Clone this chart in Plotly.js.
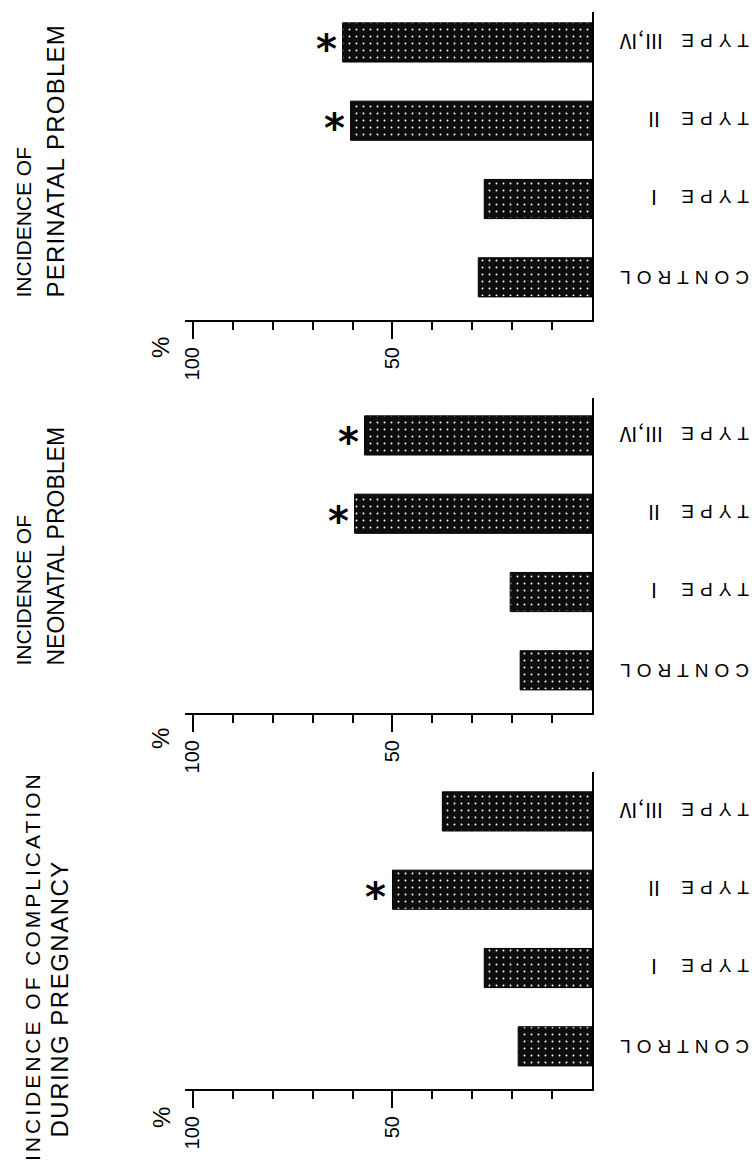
<!DOCTYPE html>
<html><head><meta charset="utf-8">
<script src="https://cdn.plot.ly/plotly-3.0.1.min.js"></script>
<style>html,body{margin:0;padding:0;background:#fff}</style>
</head><body><div id="chart" style="width:754px;height:1167px"></div>
<script>
// ---- data ----
const categories = ['CONTROL', 'TYPE Ⅰ', 'TYPE Ⅱ', 'TYPE Ⅲ,Ⅳ'];
const perinatalValues = [28.5, 27, 60.5, 62.5];
const neonatalValues = [18, 20.5, 59.5, 57];
const pregnancyValues = [18.5, 27, 50, 37.5];
const perinatalSignificant = [false, false, true, true];
const neonatalSignificant = [false, false, true, true];
const pregnancySignificant = [false, false, true, false];
const titleLine1 = ['INCIDENCE OF', 'INCIDENCE OF', 'INCIDENCE OF COMPLICATION'];
const titleLine2 = ['PERINATAL PROBLEM', 'NEONATAL PROBLEM', 'DURING PREGNANCY'];
const majorTickVals = [100, 50];
const majorTickText = ['100', '50'];
const minorTickVals = [90, 80, 70, 60, 40, 30, 20, 10];
const unitLabel = '%';
const significanceMark = '*';

// ---- geometry / style ----
const W = 754, H = 1167, ML = 185, MR = 162;
const PW = W - ML - MR;
const fx = px => (px - ML) / PW;
const fy = py => 1 - py / H;
const SPACING = 78.3, RB = -0.545;
const FONT = 'Liberation Sans, Arial, DejaVu Sans, sans-serif';
const NUMFONT = "'Noto Sans CJK JP', 'DejaVu Sans', sans-serif";
const panels = [
  {values: perinatalValues, sig: perinatalSignificant, axisPx: 320, topPx: 12,
   t1: {x: 23, y: 300, size: 21, ls: 0}, t2: {x: 55, y: 300, size: 24, ls: 1.2}, pct: [160, 348]},
  {values: neonatalValues, sig: neonatalSignificant, axisPx: 713, topPx: 398,
   t1: {x: 23, y: 668, size: 21, ls: 0}, t2: {x: 55, y: 668, size: 23, ls: 0}, pct: [160, 739]},
  {values: pregnancyValues, sig: pregnancySignificant, axisPx: 1089, topPx: 772,
   t1: {x: 32, y: 1163, size: 21, ls: 3}, t2: {x: 59, y: 1140, size: 24, ls: 1.5}, pct: [161, 1118]}
];

function labelHtml(c) {
  const sp = c.indexOf(' ');
  const word = sp < 0 ? c : c.slice(0, sp + 1);
  let html = '<span style="letter-spacing:6px">' + word + '</span>';
  if (sp >= 0) html += '<span style="font-family:' + NUMFONT + ';letter-spacing:0px;font-size:20px">' + c.slice(sp + 1) + '</span>';
  return html;
}

const data = [];
const annotations = [];
const layout = {
  width: W, height: H, margin: {l: ML, r: MR, t: 0, b: 0},
  paper_bgcolor: '#fff', plot_bgcolor: '#fff', showlegend: false,
  font: {family: FONT, color: '#000'}
};

panels.forEach((p, i) => {
  const n = i === 0 ? '' : String(i + 1);
  const xa = 'x' + n, ya = 'y' + n;
  data.push({
    type: 'bar', orientation: 'h', x: p.values, y: categories,
    xaxis: xa, yaxis: ya, width: 0.5, hoverinfo: 'skip',
    marker: {color: '#0d0d0d', line: {color: '#000', width: 1},
      pattern: {shape: '.', bgcolor: '#0d0d0d', fgcolor: '#ffffff', size: 7, solidity: 0.06}}
  });
  layout['xaxis' + n] = {
    domain: [0, 1], anchor: ya, range: [102, 0], showgrid: false, zeroline: false,
    showline: true, linecolor: '#000', linewidth: 2,
    tickmode: 'array', tickvals: majorTickVals, ticktext: majorTickText,
    ticks: 'outside', ticklen: 17, tickwidth: 2, tickcolor: '#000', tickangle: -90,
    tickfont: {size: 20, family: FONT, color: '#000'},
    minor: {tickmode: 'array', tickvals: minorTickVals, ticks: 'outside', ticklen: 8, tickwidth: 2, tickcolor: '#000', showgrid: false}
  };
  layout['yaxis' + n] = {
    domain: [fy(p.axisPx), fy(p.topPx)], anchor: xa, side: 'right', type: 'category',
    categoryorder: 'array', categoryarray: categories,
    range: [RB, RB + (p.axisPx - p.topPx) / SPACING],
    showline: true, linecolor: '#000', linewidth: 2, showgrid: false, zeroline: false,
    ticks: '', showticklabels: false
  };
  // category labels (upside-down, as in the reference)
  categories.forEach(c => annotations.push({
    xref: 'paper', yref: ya, x: fx(751), y: c, xanchor: 'right', yanchor: 'middle',
    text: labelHtml(c), textangle: 180, showarrow: false,
    font: {size: 19, family: FONT, color: '#000'}
  }));
  // significance marks
  p.values.forEach((v, k) => { if (p.sig[k]) annotations.push({
    xref: xa, yref: ya, x: v, y: categories[k], xanchor: 'right', yanchor: 'middle',
    xshift: -4, yshift: -7, text: significanceMark, showarrow: false,
    font: {size: 40, family: 'DejaVu Sans', weight: 700, color: '#000'}
  }); });
  // titles
  [[titleLine1[i], p.t1], [titleLine2[i], p.t2]].forEach(([t, s]) => annotations.push({
    xref: 'paper', yref: 'paper', x: fx(s.x), y: fy(s.y), xanchor: 'center', yanchor: 'bottom',
    text: s.ls ? '<span style="letter-spacing:' + s.ls + 'px">' + t + '</span>' : t,
    textangle: -90, showarrow: false, font: {size: s.size, family: FONT, color: '#000'}
  }));
  annotations.push({
    xref: 'paper', yref: 'paper', x: fx(p.pct[0]), y: fy(p.pct[1]), xanchor: 'center', yanchor: 'middle',
    text: unitLabel, textangle: -90, showarrow: false, font: {size: 24, family: FONT, color: '#000'}
  });
});
layout.annotations = annotations;
Plotly.newPlot('chart', data, layout, {staticPlot: true, displayModeBar: false});
</script></body></html>
